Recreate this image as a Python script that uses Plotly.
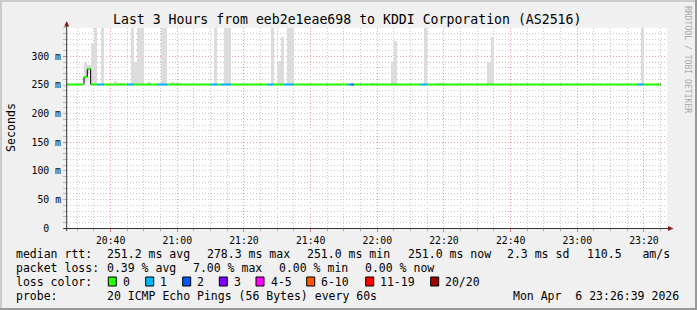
import plotly.graph_objects as go

# ---------------- data ----------------
title_text = "Last 3 Hours from eeb2e1eae698 to KDDI Corporation (AS2516)"
first_bin = "20:26"
last_bin = "23:24"
baseline_median = 251.0           # ms, flat median rtt

step_times = ["20:32", "20:33"]
step_medians = [264.0, 278.3]

loss_times = ["20:36", "20:37", "20:45", "20:46", "20:54", "20:55", "20:56",
              "21:10", "21:11", "21:13", "21:14", "21:15", "21:27", "21:28",
              "21:32", "21:33", "21:34", "21:51", "21:52", "22:13", "22:14",
              "23:18", "23:19"]
loss_counts = [1, 1, 1, 1, 1, 1, 1,
               1, 1, 1, 1, 1, 1, 1,
               1, 1, 1, 1, 2, 1, 1,
               1, 1]

smoke_times = ["20:32", "20:33", "20:34", "20:35", "20:37", "20:41", "20:42",
               "20:43", "20:46", "20:47", "20:48", "20:49", "20:51", "20:55",
               "20:56", "20:58", "20:59", "21:00", "21:11", "21:14", "21:15",
               "21:28", "21:30", "21:31", "21:33", "21:34", "21:58", "21:59",
               "22:04", "22:05", "22:14", "22:18", "22:19", "22:33", "22:34",
               "23:19", "23:24"]
smoke_tops = [291, 285, 324, 400, 400, 257.5, 254,
              254, 400, 290, 400, 400, 255, 400,
              400, 256.5, 254, 254, 400, 400, 400,
              400, 292.5, 334, 400, 400, 254.5, 254.5,
              290, 327, 400, 254, 253, 291, 334,
              400, 253]

x_tick_labels = ["20:40", "21:00", "21:20", "21:40", "22:00", "22:20", "22:40", "23:00", "23:20"]
y_tick_values = [0, 50, 100, 150, 200, 250, 300]
y_tick_labels = ["0\u00a0\u00a0", "50 m", "100 m", "150 m", "200 m", "250 m", "300 m"]
y_major_grid = [150, 300]

loss_labels = ["0", "1", "2", "3", "4-5", "6-10", "11-19", "20/20"]
loss_colors = ["#26ff00", "#00b8ff", "#0059ff", "#7e00ff", "#ff00ff", "#ff5500", "#ff0000", "#a10000"]
loss_upper = [0, 1, 2, 3, 5, 10, 19, 20]

rtt_stats = ["251.2 ms avg", "278.3 ms max", "251.0 ms min", "251.0 ms now", "2.3 ms sd", "110.5   am/s"]
loss_stats = ["0.39 % avg", "7.00 % max", "0.00 % min", "0.00 % now"]
probe_text = "20 ICMP Echo Pings (56 Bytes) every 60s"
stamp_text = "Mon Apr  6 23:26:39 2026"

# ---------------- layout helpers ----------------
W, H = 697, 310
FONT = "DejaVu Sans Mono"
GRID = "#c8c8c8"
MGRID = "#e8a0a0"
DASH = "1px,2px"


def fx(px):
    return px / W


def fy(py):
    return 1 - py / H


def to_min(t):
    h, m = t.split(":")
    return (int(h) - 20) * 60 + int(m)


def nb(s):
    return s.replace(" ", "\u00a0")


def level_of(c):
    for i, up in enumerate(loss_upper):
        if c <= up:
            return i
    return len(loss_upper) - 1


bins = list(range(to_min(first_bin), to_min(last_bin) + 1))
median = {m: baseline_median for m in bins}
for t, v in zip(step_times, step_medians):
    median[to_min(t)] = v
loss = {m: 0 for m in bins}
for t, c in zip(loss_times, loss_counts):
    loss[to_min(t)] = c
step_bins = [to_min(s) for s in step_times]

fig = go.Figure()

# invisible trace to keep the overlay axis alive
fig.add_trace(go.Scatter(x=[None], y=[None], yaxis="y2", mode="lines", hoverinfo="skip", showlegend=False))

# smoke
sx, sbase, sh = [], [], []
for t, top in zip(smoke_times, smoke_tops):
    m = to_min(t)
    low = median[m] - (8 if m in step_bins else 0)
    sx.append(m + 0.5)
    sbase.append(low)
    sh.append(top - low)
fig.add_trace(go.Bar(x=sx, y=sh, base=sbase, width=1.0,
                     marker=dict(color="#dcdcdc", line=dict(width=0)),
                     hoverinfo="skip", showlegend=False))

# thin dark median line
mx = bins + [bins[-1] + 1]
my = [median[m] for m in bins] + [median[bins[-1]]]
fig.add_trace(go.Scatter(x=mx, y=my, mode="lines", line=dict(color="#000000", width=1, shape="hv"),
                         hoverinfo="skip", showlegend=False))

# coloured median by loss
for li, col in enumerate(loss_colors):
    xs, ys = [], []
    for m in bins:
        if level_of(loss[m]) == li:
            xs += [m, m + 1, None]
            ys += [median[m], median[m], None]
    if xs:
        fig.add_trace(go.Scatter(x=xs, y=ys, mode="lines", line=dict(color=col, width=2),
                                 hoverinfo="skip", showlegend=False, connectgaps=False))

x0_px, x1_px = 67.0, 667.0
y0_px, y1_px = 228.3, 27.7
xr0 = 26.91
xr1 = xr0 + 180

tickfont = dict(family=FONT, size=9.8, color="#000000")
minor_vals = [v for v in range(0, 351, 10) if v not in y_major_grid]

fig.update_layout(
    width=W, height=H, margin=dict(l=0, r=0, t=0, b=0, pad=0, autoexpand=False),
    paper_bgcolor="#f0f0f0", plot_bgcolor="#ffffff",
    barmode="overlay", bargap=0, showlegend=False,
    xaxis=dict(domain=[fx(x0_px), fx(x1_px)], range=[xr0, xr1], automargin=False,
               tickmode="array", tickvals=[to_min(t) for t in x_tick_labels], ticktext=x_tick_labels,
               showgrid=True, gridcolor=MGRID, griddash=DASH, gridwidth=1,
               ticks="outside", ticklen=3, tickcolor="#d08080",
               minor=dict(dtick=5, tick0=0, showgrid=True, gridcolor=GRID, griddash=DASH,
                          ticks="outside", ticklen=2, tickcolor="#aaaaaa"),
               zeroline=False, showline=False, tickfont=tickfont, fixedrange=True),
    yaxis=dict(domain=[fy(y0_px), fy(y1_px)], range=[0, 350], automargin=False,
               tickmode="array", tickvals=minor_vals,
               ticktext=[y_tick_labels[y_tick_values.index(v)] if v in y_tick_values else "" for v in minor_vals],
               showgrid=True, gridcolor=GRID, griddash=DASH, gridwidth=1,
               ticks="outside", ticklen=3, tickcolor="#bbbbbb",
               zeroline=False, showline=False, tickfont=tickfont, fixedrange=True),
    yaxis2=dict(overlaying="y", anchor="x", side="left", range=[0, 350], automargin=False,
                tickmode="array", tickvals=y_major_grid,
                ticktext=[y_tick_labels[y_tick_values.index(v)] for v in y_major_grid],
                showgrid=True, gridcolor=MGRID, griddash=DASH, gridwidth=1,
                ticks="outside", ticklen=3, tickcolor="#d08080",
                zeroline=False, showline=False, tickfont=tickfont, fixedrange=True),
)

shapes = []
# axes lines + arrows
shapes.append(dict(type="line", xref="paper", yref="paper", x0=fx(66.7), x1=fx(66.7), y0=fy(231), y1=fy(24),
                   line=dict(color="#333333", width=1), layer="above"))
shapes.append(dict(type="line", xref="paper", yref="paper", x0=fx(63.3), x1=fx(669), y0=fy(228.5), y1=fy(228.5),
                   line=dict(color="#333333", width=1), layer="above"))


def ppath(pts):
    return "M " + " L ".join(f"{fx(a)},{fy(b)}" for a, b in pts) + " Z"


shapes.append(dict(type="path", xref="paper", yref="paper", path=ppath([(64.2, 26.5), (69.2, 26.5), (66.7, 21.0)]),
                   fillcolor="#8b1a1a", line=dict(width=0), layer="above"))
shapes.append(dict(type="path", xref="paper", yref="paper", path=ppath([(668, 226.0), (668, 231.0), (673.5, 228.5)]),
                   fillcolor="#8b1a1a", line=dict(width=0), layer="above"))
# frame
shapes.append(dict(type="rect", xref="paper", yref="paper", x0=0, x1=fx(2), y0=0, y1=1,
                   fillcolor="#cbcbcb", line=dict(width=0)))
shapes.append(dict(type="rect", xref="paper", yref="paper", x0=0, x1=1, y0=fy(2), y1=1,
                   fillcolor="#cbcbcb", line=dict(width=0)))
shapes.append(dict(type="rect", xref="paper", yref="paper", x0=fx(695), x1=1, y0=0, y1=1,
                   fillcolor="#999999", line=dict(width=0)))
shapes.append(dict(type="rect", xref="paper", yref="paper", x0=0, x1=1, y0=0, y1=fy(308),
                   fillcolor="#999999", line=dict(width=0)))

# legend colour boxes
box_left_px = [108.3, 145.7, 182.7, 219.3, 256.0, 306.7, 365.7, 430.7]
for bx, col in zip(box_left_px, loss_colors):
    shapes.append(dict(type="rect", xref="paper", yref="paper", x0=fx(bx), x1=fx(bx + 8),
                       y0=fy(286), y1=fy(277), fillcolor=col, line=dict(color="#000000", width=1),
                       layer="above"))

annotations = []


def txt(s, x, y, size=11.5, anchor="left", color="#000000", angle=0):
    annotations.append(dict(text=nb(s), x=fx(x), y=fy(y), xref="paper", yref="paper",
                            xanchor=anchor, yanchor="middle", showarrow=False, textangle=angle,
                            font=dict(family=FONT, size=size, color=color)))


txt(title_text, 347, 20, size=13.2, anchor="center")
txt("Seconds", 11, 128, size=11.6, anchor="center", angle=-90)
txt("RRDTOOL / TOBI OETIKER", 688, 59, size=8.1, anchor="center", color="#aaaaaa", angle=90)

row_y = [254.3, 268.3, 282.3, 296.0]
txt("median rtt:", 14, row_y[0])
for s, x in zip(rtt_stats, [107.3, 207.3, 307.3, 407.7, 506.7, 586.7]):
    txt(s, x - 2, row_y[0])
txt("packet loss:", 14, row_y[1])
for s, x in zip(loss_stats, [107.3, 193.5, 279.0, 365.0]):
    txt(s, x - 2, row_y[1])
txt("loss color:", 14, row_y[2])
for s, bx in zip(loss_labels, box_left_px):
    txt(s, bx + 14.7 - 2, row_y[2])
txt("probe:", 14, row_y[3])
txt(probe_text, 105.3, row_y[3])
txt(stamp_text, 510.7, row_y[3])

fig.update_layout(shapes=shapes, annotations=annotations)
fig.write_html("out.html")
